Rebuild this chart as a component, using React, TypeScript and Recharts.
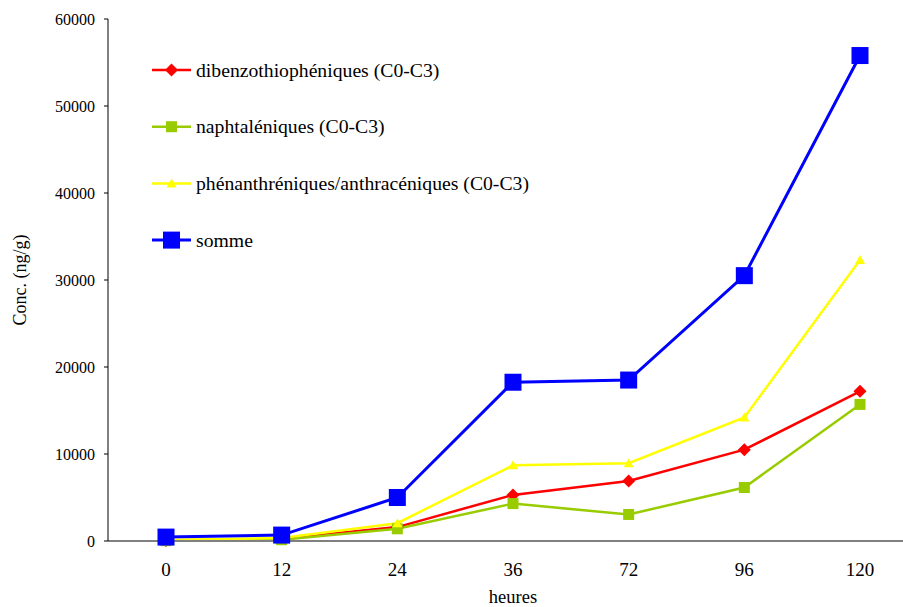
import React from 'react';
import { LineChart, Line, XAxis, YAxis, Label } from 'recharts';

const heures = ['0', '12', '24', '36', '72', '96', '120'];
const dibenzo = [60, 250, 1600, 5300, 6900, 10500, 17200];
const naphta = [40, 150, 1400, 4300, 3050, 6150, 15700];
const phenan = [120, 350, 2050, 8700, 8950, 14200, 32300];
const somme = [450, 680, 5000, 18250, 18500, 30500, 55800];
const yTicks = [0, 10000, 20000, 30000, 40000, 50000, 60000];

const RED = '#ff0000';
const GREEN = '#99cc00';
const YELLOW = '#ffff00';
const BLUE = '#0000ff';
const FONT = 'Liberation Serif, Times New Roman, serif';

const data = heures.map((h, i) => ({
  h,
  dibenzo: dibenzo[i],
  naphta: naphta[i],
  phenan: phenan[i],
  somme: somme[i]
}));

const Diamond = ({ cx, cy, s, fill }: any) => (
  <polygon points={`${cx},${cy - s} ${cx + s},${cy} ${cx},${cy + s} ${cx - s},${cy}`} fill={fill} />
);
const Square = ({ cx, cy, s, fill }: any) => (
  <rect x={cx - s} y={cy - s} width={2 * s} height={2 * s} fill={fill} />
);
const Triangle = ({ cx, cy, s, fill }: any) => (
  <polygon points={`${cx},${cy - s} ${cx + s},${cy + s * 0.8} ${cx - s},${cy + s * 0.8}`} fill={fill} />
);

const series = [
  { key: 'dibenzo', name: 'dibenzothiophéniques (C0-C3)', color: RED, width: 2.5, marker: (cx: number, cy: number) => <Diamond cx={cx} cy={cy} s={6.5} fill={RED} /> },
  { key: 'naphta', name: 'naphtaléniques (C0-C3)', color: GREEN, width: 2.5, marker: (cx: number, cy: number) => <Square cx={cx} cy={cy} s={5.5} fill={GREEN} /> },
  { key: 'phenan', name: 'phénanthréniques/anthracéniques (C0-C3)', color: YELLOW, width: 2.5, marker: (cx: number, cy: number) => <Triangle cx={cx} cy={cy} s={5} fill={YELLOW} /> },
  { key: 'somme', name: 'somme', color: BLUE, width: 3, marker: (cx: number, cy: number) => <Square cx={cx} cy={cy} s={8.5} fill={BLUE} /> }
];

// legend drawn on top of the plot, like the original
const LegendBox = () => (
  <svg width={440} height={200} style={{ fontFamily: FONT }}>
    {series.map((s, i) => {
      const y = 10 + i * 56.7;
      return (
        <g key={s.key}>
          <line x1={2} x2={41} y1={y} y2={y} stroke={s.color} strokeWidth={s.width} />
          {s.marker(21.5, y)}
          <text x={46} y={y + 6.5} fontSize={19.7} fill="#000">
            {s.name}
          </text>
        </g>
      );
    })}
  </svg>
);

export default function App() {
  return (
    <div style={{ position: 'absolute', left: 0, top: 0, width: 903, height: 607, overflow: 'hidden', background: '#fff', fontFamily: FONT }}>
      <LineChart width={930} height={607} data={data} margin={{ top: 19, right: 12, bottom: 0, left: 0 }} style={{ fontFamily: FONT }}>
        <XAxis
          dataKey="h"
          height={66}
          padding={{ left: 58, right: 58 }}
          axisLine={{ stroke: '#808080', strokeWidth: 2 }}
          tickLine={false}
          tickSize={0}
          tickMargin={22}
          tick={{ fill: '#000', fontSize: 19 }}
        >
          <Label value="heures" position="insideBottom" offset={4} style={{ fill: '#000', fontSize: 18.5 }} />
        </XAxis>
        <YAxis
          width={108}
          domain={[0, 60000]}
          ticks={yTicks}
          interval={0}
          axisLine={{ stroke: '#000', strokeWidth: 1 }}
          tickLine={{ stroke: '#000' }}
          tickSize={4}
          tickMargin={9}
          tick={{ fill: '#000', fontSize: 16 }}
        >
          <Label value="Conc. (ng/g)" angle={-90} position="insideLeft" offset={20} style={{ textAnchor: 'middle', fill: '#000', fontSize: 18 }} />
        </YAxis>
        {series.map(s => (
          <Line
            key={s.key}
            dataKey={s.key}
            name={s.name}
            stroke={s.color}
            strokeWidth={s.width}
            dot={(p: any) => <g key={`${s.key}-${p.index}`}>{s.marker(p.cx, p.cy)}</g>}
            activeDot={false}
            isAnimationActive={false}
          />
        ))}
      </LineChart>
      <div style={{ position: 'absolute', left: 150, top: 60 }}>
        <LegendBox />
      </div>
    </div>
  );
}
